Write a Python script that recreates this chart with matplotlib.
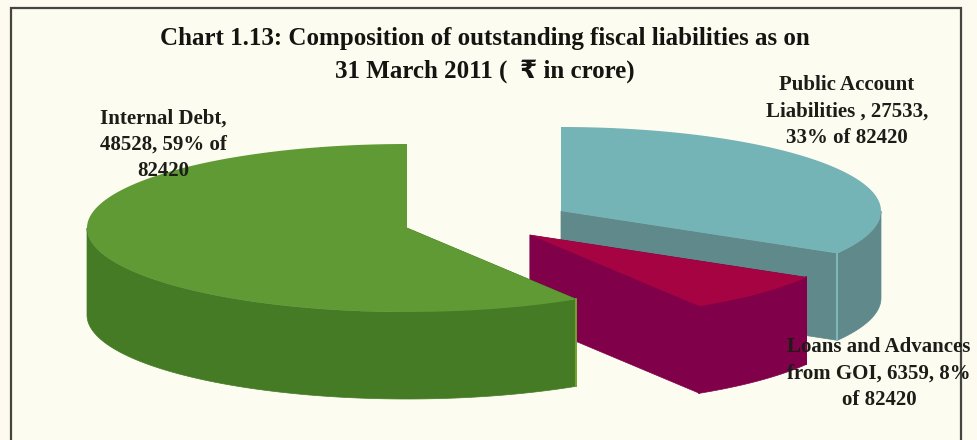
"""Exploded pseudo-3D pie of outstanding fiscal liabilities, 31 March 2011."""

import numpy as np
import matplotlib
matplotlib.use("Agg")  # headless: write PNGs without a display
import matplotlib.pyplot as plt
from matplotlib.patches import Polygon, Rectangle

plt.rcParams["font.family"] = ["Liberation Serif", "DejaVu Sans"]

# Slices, clockwise from twelve o'clock
categories = ["Public Account Liabilities", "Loans and Advances from GOI", "Internal Debt"]
values = [27533, 6359, 48528]
total = 82420

title_lines = ["Chart 1.13: Composition of outstanding fiscal liabilities as on",
               "31 March 2011 (  \u20b9 in crore)"]

# Pie shape, in pixels
RX, RY, DEPTH = 320, 84, 87
CENTERS = [(561, 211), (530, 235), (407, 228)]
TOP_COLORS = ["#74b3b6", "#a50342", "#5f9a35"]
SIDE_COLORS = ["#5f898b", "#80004a", "#457b25"]
EDGE_COLORS = ["#86c2c2", "#80004a", "#7fa83a"]
LABEL_POS = [(847, 111.5), (879, 373.5), (163, 145)]
LABEL_LINES = [["Public Account", "Liabilities , 27533,", "33% of 82420"],
               ["Loans and Advances", "from GOI, 6359, 8%", "of 82420"],
               ["Internal Debt,", "48528, 59% of", "82420"]]


def arc(cx, cy, a0, a1, dy=0):
    """Points on the ellipse; angles in degrees clockwise from the top."""
    t = np.radians(np.linspace(a0, a1, max(int(abs(a1 - a0)) * 2, 2)))
    return np.column_stack([cx + RX * np.sin(t), cy - RY * np.cos(t) + dy])


def draw_slice(ax, center, a0, a1, top, side, edge):
    cx, cy = center
    # cut faces go first, then the rim, then the lid on top of both
    for a in (a0, a1):
        if 0 < a < 360:  # a cut at twelve o'clock is edge-on
            p = arc(cx, cy, a, a, 0)[0]
            face = [(cx, cy), p, p + (0, DEPTH), (cx, cy + DEPTH)]
            ax.add_patch(Polygon(face, closed=True, fc=side, ec=side, lw=0.5, zorder=2))
    lo, hi = max(a0, 90), min(a1, 270)
    if hi > lo:
        rim = np.vstack([arc(cx, cy, lo, hi), arc(cx, cy, hi, lo, DEPTH)])
        ax.add_patch(Polygon(rim, closed=True, fc=side, ec=side, lw=0.5, zorder=2))
    # pale corner where the cut face meets the rim
    for a in (a0, a1):
        if 90 < a < 270:
            p = arc(cx, cy, a, a)[0]
            ax.plot([p[0], p[0]], [p[1], p[1] + DEPTH], color=edge, lw=1.2, zorder=2)
    lid = np.vstack([[(cx, cy)], arc(cx, cy, a0, a1)])
    ax.add_patch(Polygon(lid, closed=True, fc=top, ec="none", zorder=2))


fig = plt.figure(figsize=(9.77, 4.4), dpi=100, facecolor="#fdfbf0")
ax = fig.add_axes([0, 0, 1, 1])
ax.set_xlim(0, 977)
ax.set_ylim(440, 0)
ax.axis("off")

# frame runs off the bottom of the page
ax.add_patch(Rectangle((10.5, 8), 950.5, 445, fc="#fdfcf0", ec="#45443f", lw=1.6,
                       zorder=1))

bounds = np.concatenate([[0], np.cumsum(values)]) / total * 360
for i in range(len(values)):
    draw_slice(ax, CENTERS[i], bounds[i], bounds[i + 1],
               TOP_COLORS[i], SIDE_COLORS[i], EDGE_COLORS[i])

for k, line in enumerate(title_lines):
    ax.text(485, 38.5 + 33 * k, line, ha="center", va="center", fontsize=18,
            fontweight="bold", color="#141410", zorder=3)

for (x, y), lines in zip(LABEL_POS, LABEL_LINES):
    for k, line in enumerate(lines):
        ax.text(x, y + 26.5 * (k - 1), line, ha="center", va="center", fontsize=15,
                fontweight="bold", color="#1c1c18", zorder=3)

fig.savefig("out.png", dpi=100, facecolor=fig.get_facecolor())
plt.close(fig)
